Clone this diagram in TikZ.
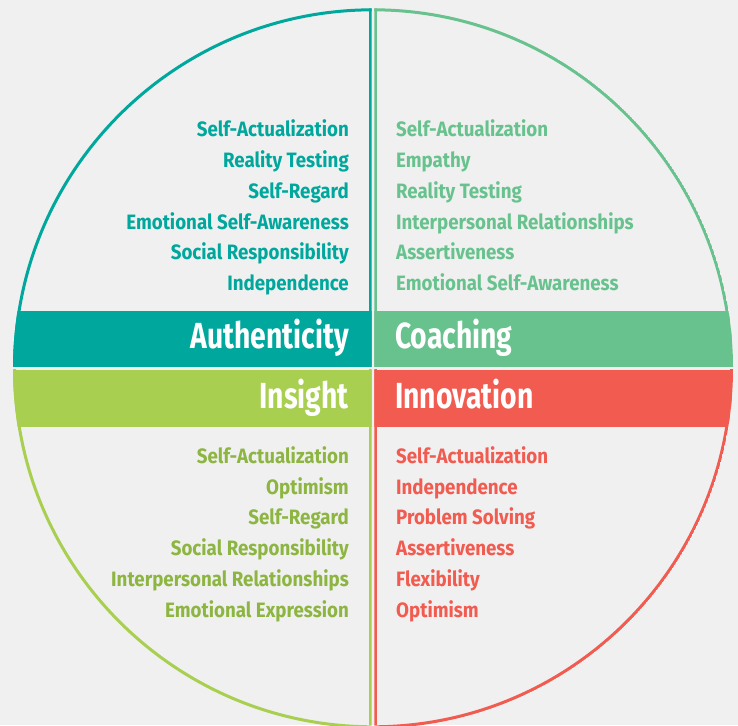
\documentclass[tikz,border=0pt]{standalone}
\usepackage{fontspec}
\newfontfamily\lbl{Fira Sans}[FakeStretch=0.9]
\newfontfamily\ttl{Fira Sans}[FakeStretch=0.78]
\definecolor{bg}{HTML}{F0F0F0}
\definecolor{teal1}{HTML}{00A79D}
\definecolor{green1}{HTML}{68C28E}
\definecolor{lime1}{HTML}{A8CF4F}
\definecolor{limetext}{HTML}{8DB541}
\definecolor{red1}{HTML}{F15B50}
\begin{document}
\begin{tikzpicture}[x=1pt,y=-1pt,
  item/.style={inner sep=0pt, font=\lbl\bfseries\fontsize{20.8}{24}\selectfont},
  title/.style={inner sep=0pt, text=white, font=\ttl\bfseries\fontsize{36.3}{40}\selectfont},
  rim/.style={line width=3pt}]
\useasboundingbox (0,0) rectangle (738,725);
\fill[bg] (0,0) rectangle (738,725);
\coordinate (c) at (373,368.3);
% top left
\begin{scope}
\clip (0,0) rectangle (371.6,366.9);
\clip (c) circle (360pt);
\draw[rim, teal1] (c) circle (358.5pt);
\draw[rim, teal1] (370.1,0) -- (370.1,368);
\fill[teal1] (0,310.7) rectangle (371.6,366.9);
\end{scope}
% top right
\begin{scope}
\clip (374.4,0) rectangle (738,366.9);
\clip (c) circle (360pt);
\draw[rim, green1] (c) circle (358.5pt);
\draw[rim, green1] (375.9,0) -- (375.9,368);
\fill[green1] (374.4,310.7) rectangle (738,366.9);
\end{scope}
% bottom left
\begin{scope}
\clip (0,369.7) rectangle (371.6,725);
\clip (c) circle (360pt);
\draw[rim, lime1] (c) circle (358.5pt);
\draw[rim, lime1] (370.1,369) -- (370.1,725);
\fill[lime1] (0,369.7) rectangle (371.6,426.7);
\end{scope}
% bottom right
\begin{scope}
\clip (374.4,369.7) rectangle (738,725);
\clip (c) circle (360pt);
\draw[rim, red1] (c) circle (358.5pt);
\draw[rim, red1] (375.9,369) -- (375.9,725);
\fill[red1] (374.4,369.7) rectangle (738,426.7);
\end{scope}
% titles
\node[title, anchor=base east] (ta) at (349,348.3) {Authenticity};
\node[title, anchor=base west] (tc) at (395,348.3) {Coaching};
\node[title, anchor=base east] (ti) at (349,408.3) {Insight};
\node[title, anchor=base west] (tn) at (395,408.3) {Innovation};
% authenticity list
\begin{scope}[every node/.style={item, text=teal1, anchor=base east}]
\node (a1) at (349,136.7) {Self-Actualization};
\node (a2) at (349,167.5) {Reality Testing};
\node (a3) at (349,198.3) {Self-Regard};
\node (a4) at (349,229.1) {Emotional Self-Awareness};
\node (a5) at (349,259.9) {Social Responsibility};
\node (a6) at (349,290.7) {Independence};
\end{scope}
% coaching list
\begin{scope}[every node/.style={item, text=green1, anchor=base west}]
\node (c1) at (396,136.7) {Self-Actualization};
\node (c2) at (396,167.5) {Empathy};
\node (c3) at (396,198.3) {Reality Testing};
\node (c4) at (396,229.1) {Interpersonal Relationships};
\node (c5) at (396,259.9) {Assertiveness};
\node (c6) at (396,290.7) {Emotional Self-Awareness};
\end{scope}
% insight list
\begin{scope}[every node/.style={item, text=limetext, anchor=base east}]
\node (i1) at (349,463.3) {Self-Actualization};
\node (i2) at (349,494.1) {Optimism};
\node (i3) at (349,524.9) {Self-Regard};
\node (i4) at (349,555.7) {Social Responsibility};
\node (i5) at (349,586.5) {Interpersonal Relationships};
\node (i6) at (349,617.3) {Emotional Expression};
\end{scope}
% innovation list
\begin{scope}[every node/.style={item, text=red1, anchor=base west}]
\node (n1) at (396,463.3) {Self-Actualization};
\node (n2) at (396,494.1) {Independence};
\node (n3) at (396,524.9) {Problem Solving};
\node (n4) at (396,555.7) {Assertiveness};
\node (n5) at (396,586.5) {Flexibility};
\node (n6) at (396,617.3) {Optimism};
\end{scope}
\end{tikzpicture}
\end{document}
